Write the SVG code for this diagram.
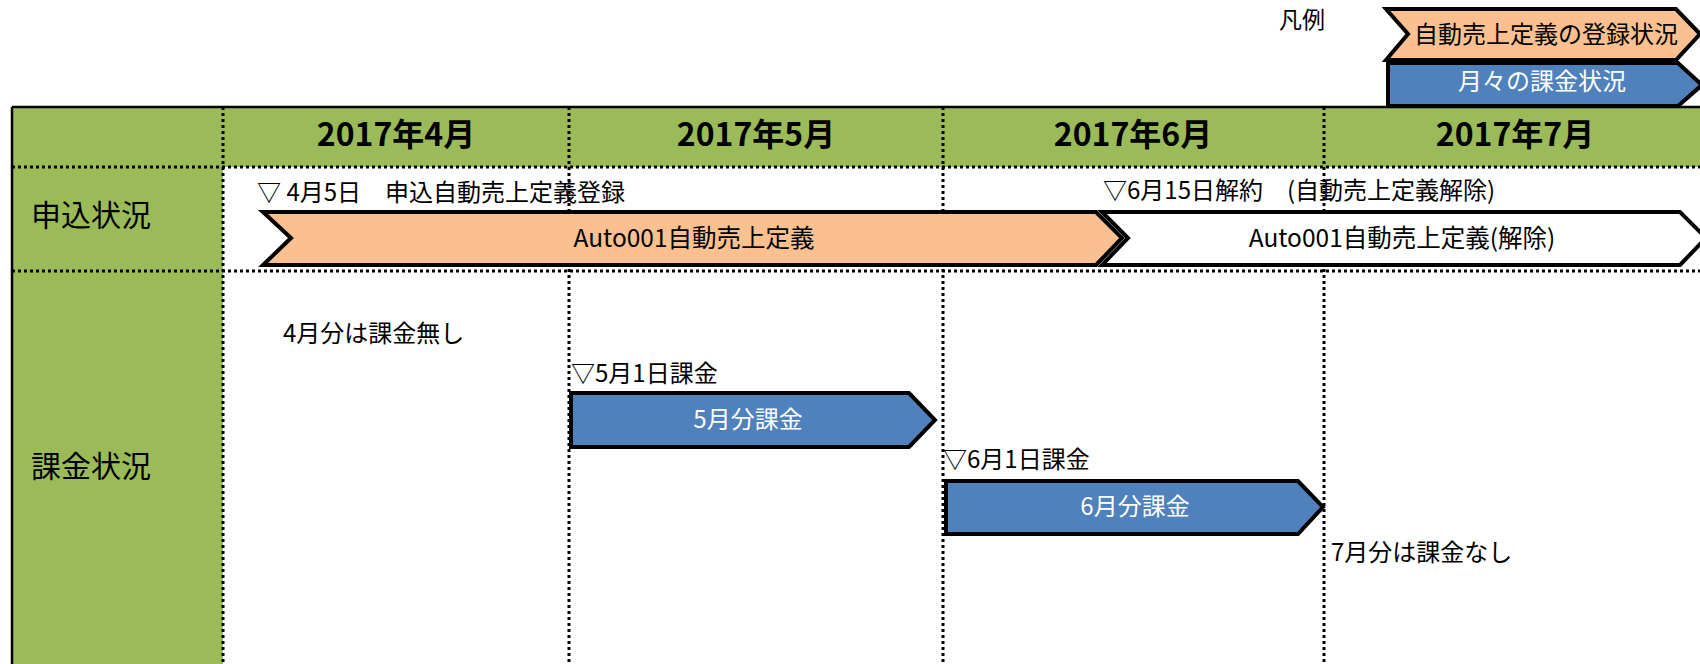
<svg xmlns="http://www.w3.org/2000/svg" width="1700" height="664" viewBox="0 0 1700 664">
<style>
text{font-family:"Noto Sans CJK JP","Noto Sans",sans-serif;fill:#000}
.hd{font-size:32px;font-weight:bold;text-anchor:middle}
.rl{font-size:30px}
.t{font-size:24px}
.w{fill:#fff}
.c{text-anchor:middle}
.dot{stroke:#000;stroke-width:3;stroke-dasharray:3 3;fill:none}
.sh{stroke:#000;stroke-width:4;stroke-linejoin:miter}
</style>
<rect width="1700" height="664" fill="#fff"/>
<g id="table">
<rect x="12" y="107" width="1700" height="60" fill="#9BBB59"/>
<rect x="12" y="167" width="211" height="497" fill="#9BBB59"/>
<line x1="12" y1="107" x2="1700" y2="107" stroke="#000" stroke-width="2.5"/>
<line x1="12" y1="107" x2="12" y2="664" stroke="#000" stroke-width="2.5"/>
<line class="dot" x1="12" y1="167" x2="1700" y2="167"/>
<line class="dot" x1="12" y1="271" x2="1700" y2="271"/>
<line class="dot" x1="223" y1="107" x2="223" y2="664"/>
<line class="dot" x1="569" y1="107" x2="569" y2="664"/>
<line class="dot" x1="943" y1="107" x2="943" y2="664"/>
<line class="dot" x1="1324" y1="107" x2="1324" y2="664"/>
<text class="hd" x="396" y="146">2017年4月</text>
<text class="hd" x="756" y="146">2017年5月</text>
<text class="hd" x="1133" y="146">2017年6月</text>
<text class="hd" x="1515" y="146">2017年7月</text>
<text class="rl" x="31" y="226">申込状況</text>
<text class="rl" x="31" y="477">課金状況</text>
</g>
<g id="legend">
<text class="t" x="1279" y="28" style="font-size:23px">凡例</text>
<polygon class="sh" fill="#FAC090" points="1386,9 1676,9 1700,34 1676,60 1386,60 1408,34"/>
<text class="t c" x="1546" y="43">自動売上定義の登録状況</text>
<polygon class="sh" fill="#4F81BD" points="1388,63 1678,63 1702,85 1678,106 1388,106"/>
<text class="t w c" x="1542" y="90">月々の課金状況</text>
</g>
<g id="node-kaiyaku">
<polygon class="sh" fill="#fff" points="1102,212 1680,212 1706,238 1680,265 1102,265 1128,238"/>
<text class="t c" x="1402" y="247" style="font-size:24.5px">Auto001自動売上定義(解除)</text>
</g>
<g id="node-teigi">
<polygon class="sh" fill="#FAC090" points="263,212 1096,212 1122,238 1096,265 263,265 291,238"/>
<text class="t c" x="694" y="247" style="font-size:24.5px">Auto001自動売上定義</text>
</g>
<g id="labels">
<text class="t" x="257" y="201">▽ 4月5日　申込自動売上定義登録</text>
<text class="t" x="1103" y="199">▽6月15日解約　(自動売上定義解除)</text>
<text class="t" x="283" y="342">4月分は課金無し</text>
<text class="t" x="571" y="382">▽5月1日課金</text>
<text class="t" x="943" y="468">▽6月1日課金</text>
<text class="t" x="1331" y="561">7月分は課金なし</text>
</g>
<g id="node-may">
<polygon class="sh" fill="#4F81BD" points="571,393 909,393 935,420 909,447 571,447"/>
<text class="t w c" x="748" y="428">5月分課金</text>
</g>
<g id="node-jun">
<polygon class="sh" fill="#4F81BD" points="946,481 1298,481 1323,507 1298,534 946,534"/>
<text class="t w c" x="1135" y="515">6月分課金</text>
</g>
</svg>
